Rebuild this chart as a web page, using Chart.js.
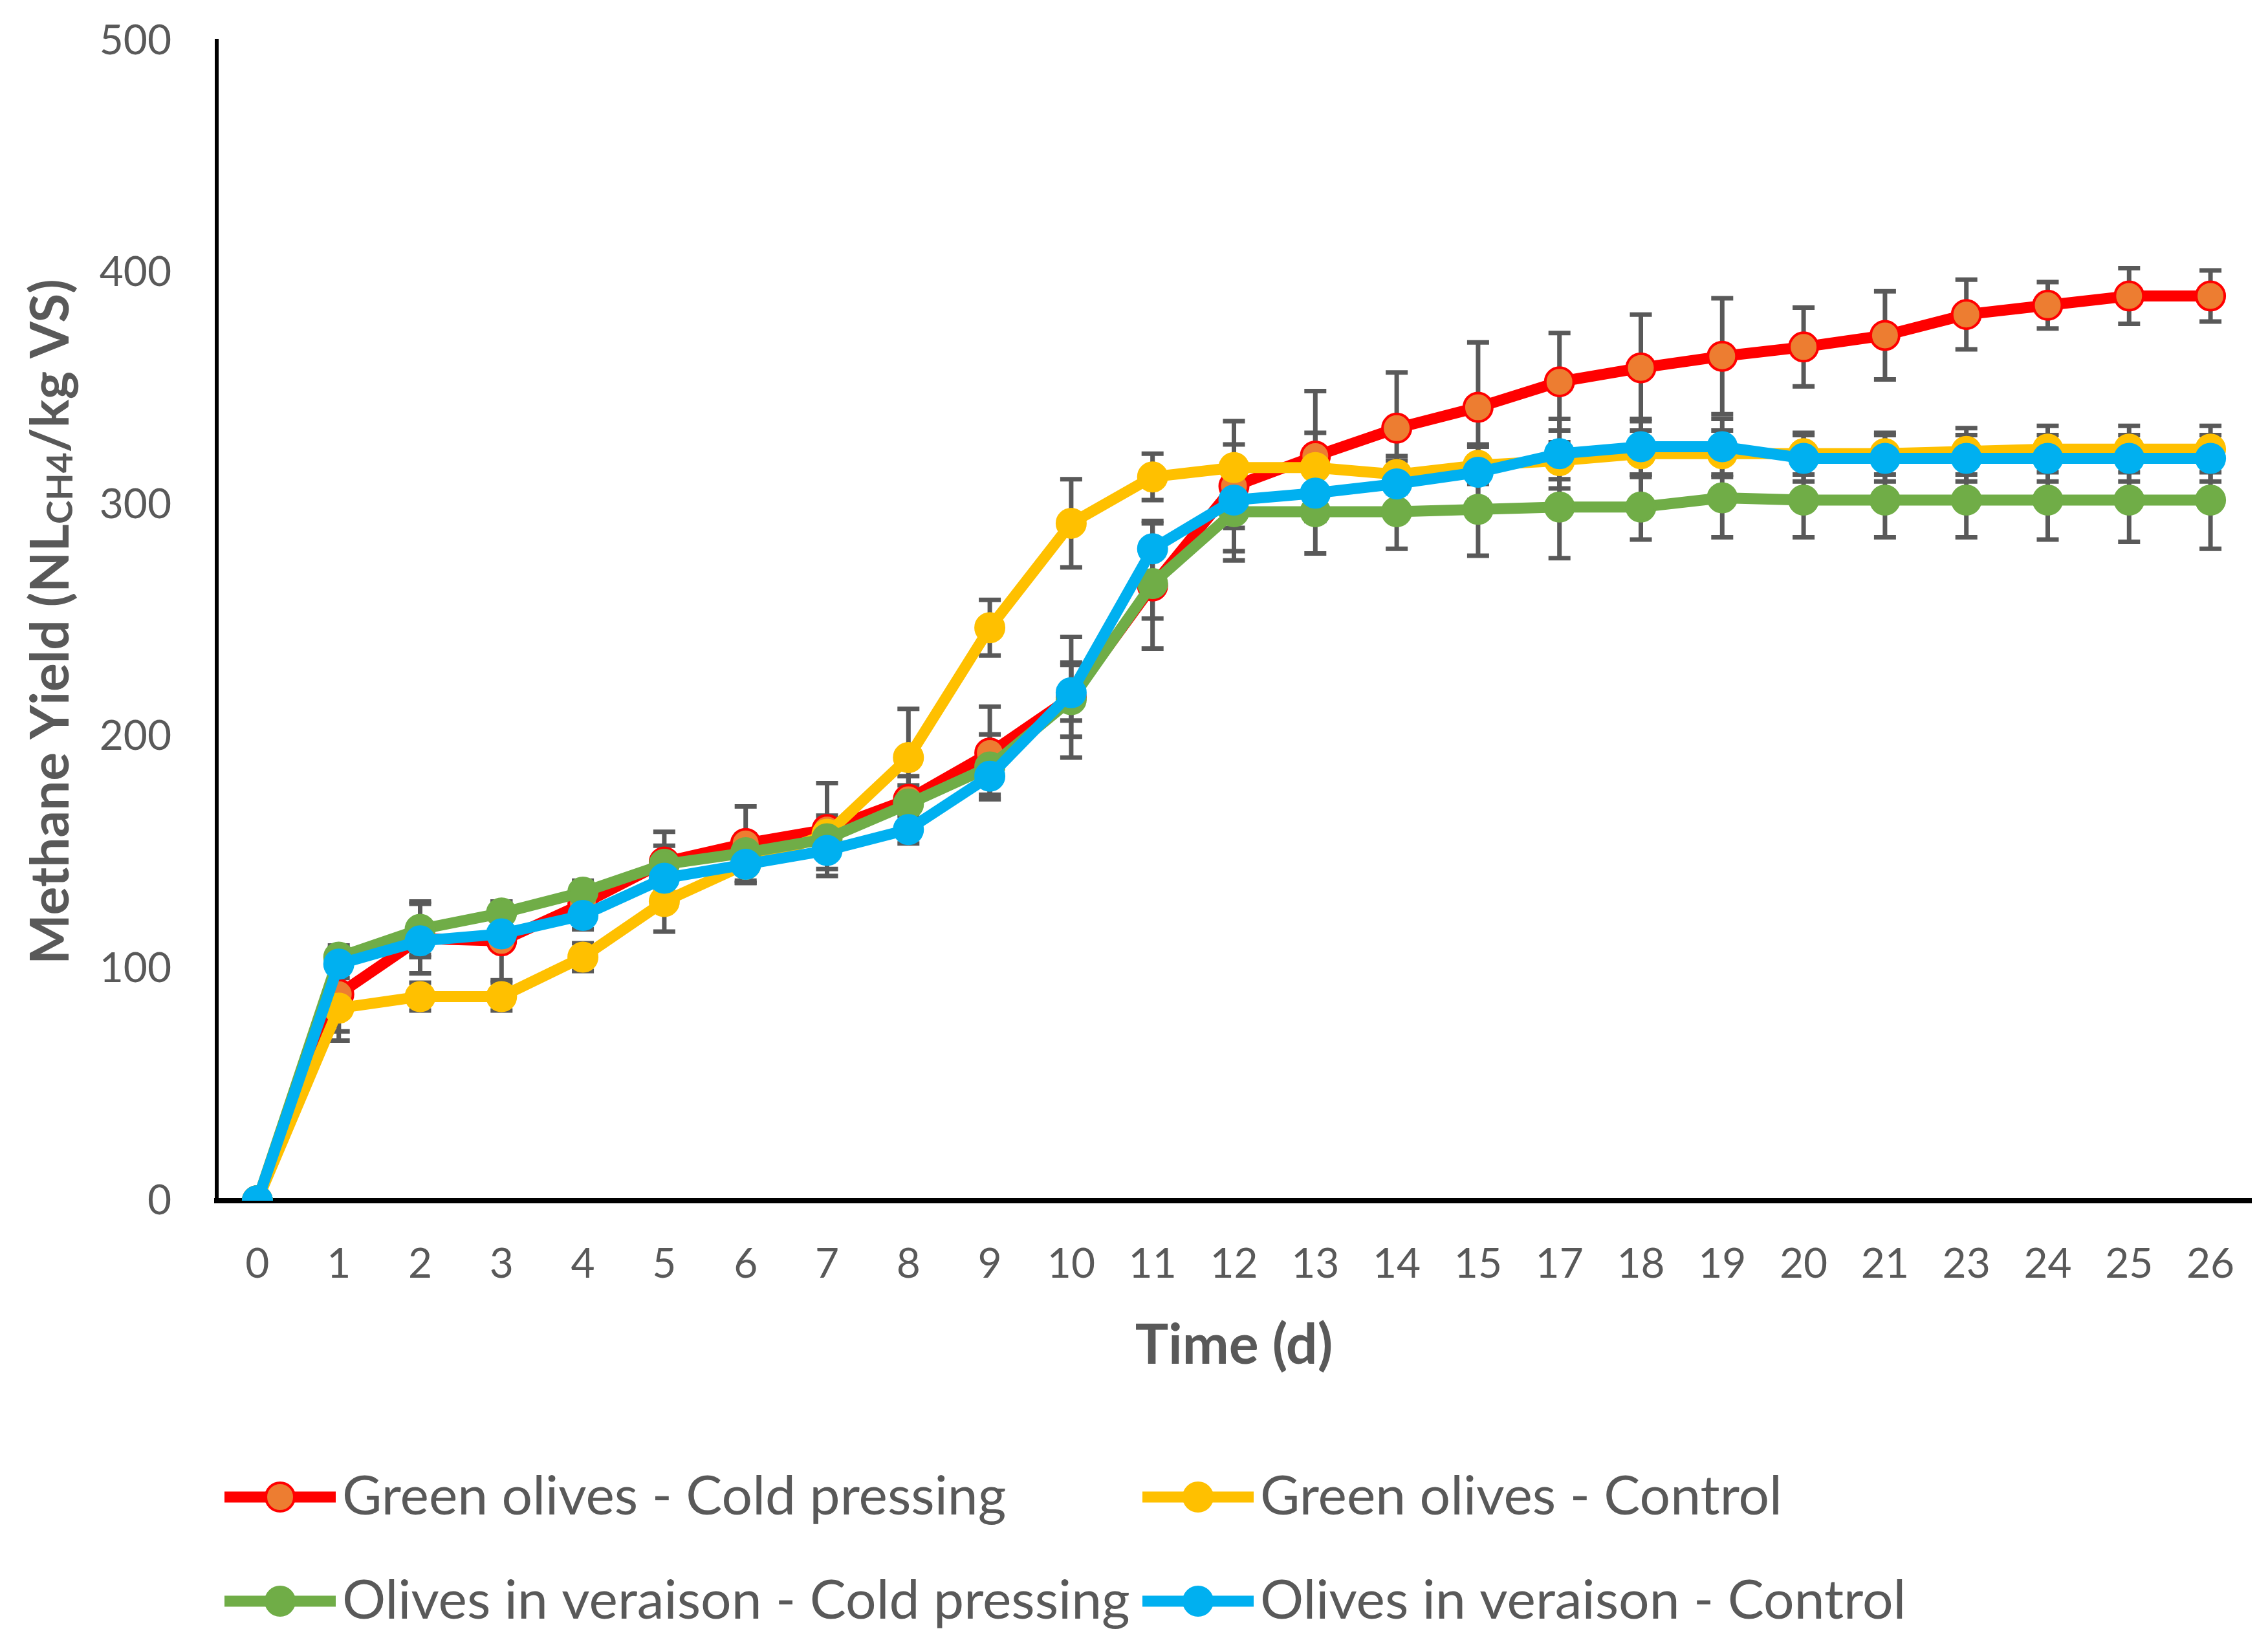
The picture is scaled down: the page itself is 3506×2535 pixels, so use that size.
<!DOCTYPE html>
<html>
<head>
<meta charset="utf-8">
<title>Methane Yield</title>
<script src="https://cdn.jsdelivr.net/npm/chart.js@4/dist/chart.umd.min.js"></script>
<style>
  html, body { margin: 0; padding: 0; background: #fff; }
  canvas { display: block; }
</style>
</head>
<body>
<canvas id="chart" width="3506" height="2535" style="width:3506px;height:2535px"></canvas>
<script>
// days (16 and 22 are not measured)
const days = ['0','1','2','3','4','5','6','7','8','9','10','11','12','13','14','15','17','18','19','20','21','23','24','25','26'];

// Green olives - Cold pressing
const greenCold = [0, 89, 113, 112, 128, 146, 154, 160, 173, 193, 217, 265, 308, 321, 333, 342, 353, 359, 364, 368, 373, 382, 386, 390, 390];
const greenColdErr = [0, 20, 15, 17, 8, 13, 16, 20, 10, 20, 26, 27, 28, 28, 24, 28, 21, 23, 25, 17, 19, 15, 10, 12, 11];

// Green olives - Control
const greenCtrl = [0, 83, 88, 88, 105, 129, 145, 158, 191, 247, 292, 312, 316, 316, 313, 317, 319, 322, 322, 322, 322, 323, 324, 324, 324];
const greenCtrlErr = [0, 10, 6, 6, 6, 13, 8, 8, 21, 12, 19, 10, 10, 15, 8, 8, 8, 10, 10, 9, 9, 10, 10, 10, 10];

// Olives in veraison - Cold pressing
const verCold = [0, 105, 117, 124, 133, 145, 150, 156, 171, 187, 216, 266, 297, 297, 297, 298, 299, 299, 303, 302, 302, 302, 302, 302, 302];
const verColdErr = [0, 5, 12, 5, 5, 8, 8, 8, 8, 14, 16, 15, 21, 18, 16, 20, 22, 14, 17, 16, 16, 16, 17, 18, 21];

// Olives in veraison - Control
const verCtrl = [0, 102, 112, 115, 123, 139, 145, 151, 160, 183, 219, 281, 302, 305, 309, 314, 322, 325, 325, 320, 320, 320, 320, 320, 320];
const verCtrlErr = [0, 6, 6, 6, 6, 6, 8, 8, 6, 8, 12, 12, 12, 12, 10, 12, 15, 12, 12, 10, 10, 10, 10, 10, 10];

const yTicks = [0, 100, 200, 300, 400, 500];

const FONT = 'Lato, "Open Sans", sans-serif';
const GREY = '#595959';

function series(label, data, err, line, fill, border, order) {
  return {
    label: label,
    data: data,
    errors: err,
    borderColor: line,
    backgroundColor: fill,
    pointBackgroundColor: fill,
    pointBorderColor: border,
    pointBorderWidth: 4,
    pointRadius: 22,
    pointHoverRadius: 22,
    borderWidth: 17,
    tension: 0,
    order: order
  };
}

// error bars, drawn under the lines
const errorBars = {
  id: 'errorBars',
  beforeDatasetsDraw(chart) {
    const ctx = chart.ctx;
    const y = chart.scales.y;
    ctx.save();
    ctx.strokeStyle = GREY;
    ctx.lineWidth = 7;
    chart.data.datasets.forEach((ds, i) => {
      const meta = chart.getDatasetMeta(i);
      meta.data.forEach((pt, j) => {
        const e = ds.errors[j];
        if (!e) return;
        const top = y.getPixelForValue(ds.data[j] + e);
        const bot = y.getPixelForValue(ds.data[j] - e);
        ctx.beginPath();
        ctx.moveTo(pt.x, top); ctx.lineTo(pt.x, bot);
        ctx.moveTo(pt.x - 17, top); ctx.lineTo(pt.x + 17, top);
        ctx.moveTo(pt.x - 17, bot); ctx.lineTo(pt.x + 17, bot);
        ctx.stroke();
      });
    });
    ctx.restore();
  }
};

// axis titles and legend
const extras = {
  id: 'extras',
  afterDraw(chart) {
    const ctx = chart.ctx;
    const area = chart.chartArea;
    ctx.save();
    ctx.fillStyle = GREY;

    // x title
    ctx.font = 'bold 86px ' + FONT;
    ctx.textAlign = 'center';
    ctx.textBaseline = 'middle';
    ctx.fillText('Time (d)', (area.left + area.right) / 2, 2080);

    // y title with subscript
    const big = 'bold 82px ' + FONT, small = 'bold 55px ' + FONT;
    const parts = [['Methane Yield (NL', big, 0], ['CH4', small, 14], ['/kg VS)', big, 0]];
    let total = 0;
    parts.forEach(p => { ctx.font = p[1]; p.push(ctx.measureText(p[0]).width); total += p[3]; });
    ctx.translate(80, 961);
    ctx.rotate(-Math.PI / 2);
    ctx.textAlign = 'left';
    let x = -total / 2;
    parts.forEach(p => {
      ctx.font = p[1];
      ctx.fillText(p[0], x, p[2]);
      x += p[3];
    });
    ctx.setTransform(1, 0, 0, 1, 0, 0);

    // legend, two columns
    const spots = [[347, 2314], [1766, 2314], [347, 2475], [1766, 2475]];
    chart.data.datasets.forEach((ds, i) => {
      const [lx, ly] = spots[i];
      ctx.strokeStyle = ds.borderColor;
      ctx.lineWidth = 17;
      ctx.beginPath();
      ctx.moveTo(lx, ly); ctx.lineTo(lx + 172, ly);
      ctx.stroke();
      ctx.beginPath();
      ctx.arc(lx + 86, ly, 22, 0, Math.PI * 2);
      ctx.fillStyle = ds.pointBackgroundColor;
      ctx.fill();
      ctx.lineWidth = 4;
      ctx.strokeStyle = ds.pointBorderColor;
      ctx.stroke();
      ctx.fillStyle = GREY;
      ctx.font = '84px ' + FONT;
      ctx.textAlign = 'left';
      ctx.textBaseline = 'middle';
      ctx.fillText(ds.label, lx + 182, ly);
    });
    ctx.restore();
  }
};

new Chart(document.getElementById('chart'), {
  type: 'line',
  data: {
    labels: days,
    datasets: [
      series('Green olives - Cold pressing', greenCold, greenColdErr, '#FF0000', '#ED7D31', '#FF0000', 4),
      series('Green olives - Control', greenCtrl, greenCtrlErr, '#FFC000', '#FFC000', '#FFC000', 3),
      series('Olives in veraison - Cold pressing', verCold, verColdErr, '#70AD47', '#70AD47', '#70AD47', 2),
      series('Olives in veraison - Control', verCtrl, verCtrlErr, '#00B0F0', '#00B0F0', '#00B0F0', 1)
    ]
  },
  options: {
    responsive: false,
    devicePixelRatio: 1,
    animation: false,
    layout: { padding: { top: 63, right: 26, bottom: 0, left: 0 } },
    plugins: { legend: { display: false }, tooltip: { enabled: false } },
    scales: {
      x: {
        offset: true,
        grid: { display: false, drawTicks: false },
        border: { color: '#000', width: 8 },
        ticks: { color: GREY, font: { family: FONT, size: 64 }, padding: 60, maxRotation: 0, autoSkip: false },
        afterFit(s) { s.height = 679; s.paddingLeft = 0; s.paddingRight = 0; }
      },
      y: {
        min: 0, max: 500,
        afterBuildTicks(s) { s.ticks = yTicks.map(v => ({ value: v })); },
        grid: { display: false, drawTicks: false },
        border: { color: '#000', width: 6 },
        ticks: { color: GREY, font: { family: FONT, size: 64 }, padding: 70 },
        afterFit(s) { s.width = 335; s.paddingTop = 0; s.paddingBottom = 0; }
      }
    }
  },
  plugins: [errorBars, extras]
});
</script>
</body>
</html>
